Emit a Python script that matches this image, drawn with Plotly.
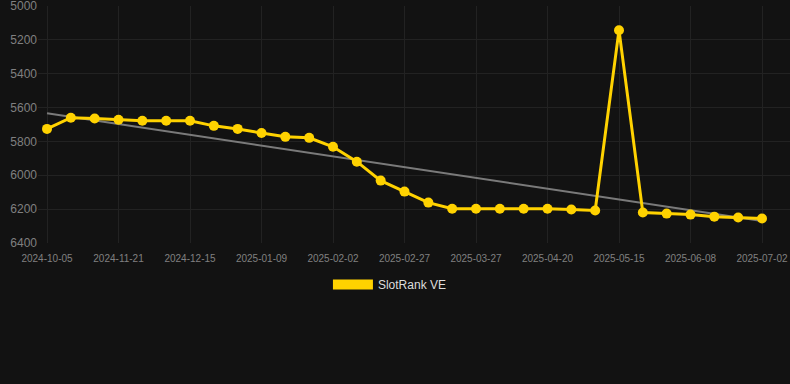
import numpy as np
import plotly.graph_objects as go

dates = [
    "2024-10-05", "2024-10-21", "2024-11-06", "2024-11-21", "2024-11-29",
    "2024-12-07", "2024-12-15", "2024-12-23", "2024-12-31", "2025-01-09",
    "2025-01-17", "2025-01-25", "2025-02-02", "2025-02-10", "2025-02-18",
    "2025-02-27", "2025-03-08", "2025-03-17", "2025-03-27", "2025-04-04",
    "2025-04-12", "2025-04-20", "2025-04-28", "2025-05-06", "2025-05-15",
    "2025-05-23", "2025-05-31", "2025-06-08", "2025-06-16", "2025-06-24",
    "2025-07-02",
]
rank = [
    5726, 5660, 5665, 5672, 5678, 5678, 5678, 5708, 5726, 5750,
    5773, 5779, 5832, 5920, 6032, 6097, 6162, 6198, 6198, 6198,
    6198, 6198, 6203, 6209, 5142, 6221, 6227, 6233, 6245, 6250,
    6256,
]
tick_labels = [
    "2024-10-05", "2024-11-21", "2024-12-15", "2025-01-09", "2025-02-02",
    "2025-02-27", "2025-03-27", "2025-04-20", "2025-05-15", "2025-06-08",
    "2025-07-02",
]
y_ticks = [5000, 5200, 5400, 5600, 5800, 6000, 6200, 6400]
series_name = "SlotRank VE"

gold = "#FFD200"
idx = np.arange(len(rank))
slope, intercept = np.polyfit(idx, rank, 1)
trend = slope * idx + intercept

fig = go.Figure()
fig.add_trace(go.Scatter(
    x=[dates[0], dates[-1]], y=[trend[0], trend[-1]], mode="lines",
    line=dict(color="#7a7a7a", width=2), showlegend=False, hoverinfo="skip",
))
fig.add_trace(go.Scatter(
    x=dates, y=rank, mode="lines+markers",
    line=dict(color=gold, width=3),
    marker=dict(color=gold, size=10),
    showlegend=False, name=series_name,
))
fig.add_trace(go.Scatter(
    x=[None], y=[None], mode="lines", name=series_name,
    line=dict(color=gold, width=12), showlegend=True,
))

fig.update_layout(
    width=790, height=384,
    margin=dict(l=38, r=0, t=6, b=141),
    paper_bgcolor="#121212", plot_bgcolor="#121212",
    font=dict(family="Liberation Sans, Arial, sans-serif", color="#888888"),
    showlegend=True,
    legend=dict(
        orientation="h", x=0.468, xanchor="center", y=-0.175, yanchor="middle",
        font=dict(size=12, color="#dddddd"), itemwidth=40,
        bgcolor="rgba(0,0,0,0)",
    ),
    xaxis=dict(
        type="category", categoryorder="array", categoryarray=dates,
        range=[-0.378, 31.175],
        tickmode="array", tickvals=tick_labels, ticktext=tick_labels,
        tickfont=dict(size=10, color="#808080"),
        ticklabelstandoff=8,
        showgrid=True, gridcolor="#222222", gridwidth=1,
        zeroline=False, showline=False, ticks="",
    ),
    yaxis=dict(
        autorange=False, range=[6401, 4999],
        tickmode="array", tickvals=y_ticks,
        tickfont=dict(size=12, color="#808080"),
        ticklabeloverflow="allow",
        showgrid=True, gridcolor="#222222", gridwidth=1,
        zeroline=False, showline=False, ticks="",
    ),
)

fig.write_html(
    "out.html",
    config={"displayModeBar": False},
    post_script="document.body.style.margin='0';document.body.style.background='#121212';",
)
